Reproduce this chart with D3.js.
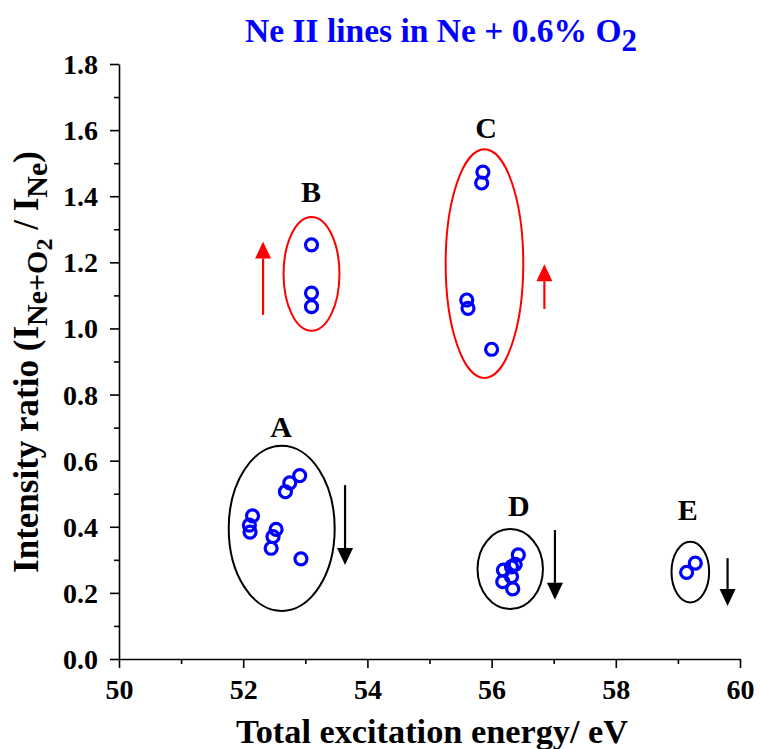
<!DOCTYPE html>
<html>
<head>
<meta charset="utf-8">
<script src="https://cdn.jsdelivr.net/npm/d3@7"></script>
<style>
  body { margin: 0; background: #fff; }
  svg text { font-family: "Liberation Serif", "Times New Roman", serif; font-weight: bold; }
</style>
</head>
<body>
<div id="chart"></div>
<script>
// measured points (energy eV, intensity ratio)
const groupA = [[52.91, 0.555], [52.75, 0.533], [52.68, 0.506], [52.15, 0.433], [52.10, 0.405],
                [52.11, 0.384], [52.53, 0.392], [52.48, 0.370], [52.45, 0.335], [52.93, 0.303]];
const groupB = [[53.10, 1.253], [53.10, 1.107], [53.10, 1.066]];
const groupC = [[55.86, 1.473], [55.84, 1.440], [55.60, 1.086], [55.62, 1.061], [56.00, 0.937]];
const groupD = [[56.43, 0.315], [56.38, 0.286], [56.32, 0.279], [56.19, 0.269], [56.18, 0.234],
                [56.32, 0.249], [56.34, 0.212]];
const groupE = [[59.28, 0.290], [59.14, 0.262]];

// cluster ellipses: name, centre x, centre y, half width (eV), half height (ratio), colour
const clusters = [
  ["A", 52.62, 0.395, 0.853, 0.250, "#000"],
  ["B", 53.10, 1.165, 0.450, 0.172, "#f00"],
  ["C", 55.885, 1.196, 0.625, 0.346, "#f00"],
  ["D", 56.30, 0.272, 0.527, 0.121, "#000"],
  ["E", 59.20, 0.263, 0.303, 0.092, "#000"]
];
// cluster labels: text, x, y (baseline)
const labels = [["A", 52.61, 0.672], ["B", 53.09, 1.383], ["C", 55.91, 1.576], ["D", 56.44, 0.433], ["E", 59.16, 0.420]];
// trend arrows: x, from y, to y (tip), colour
const arrows = [
  [52.32, 1.041, 1.263, "#f00"],
  [56.85, 1.059, 1.194, "#f00"],
  [53.64, 0.526, 0.284, "#000"],
  [57.02, 0.390, 0.179, "#000"],
  [59.80, 0.305, 0.160, "#000"]
];
const xTicks = [50, 52, 54, 56, 58, 60];
const yTicks = [0, 0.2, 0.4, 0.6, 0.8, 1.0, 1.2, 1.4, 1.6, 1.8];

const width = 761, height = 749;
const margin = { top: 64, right: 21, bottom: 90, left: 119 };
const serif = "'Liberation Serif', 'Times New Roman', serif";

const svg = d3.select("#chart").append("svg")
    .attr("width", width)
    .attr("height", height)
    .attr("font-family", serif)
    .attr("font-weight", "bold");

const x = d3.scaleLinear().domain([50, 60]).range([margin.left, width - margin.right]);
const y = d3.scaleLinear().domain([0, 1.8]).range([height - margin.bottom, margin.top]);

// minor ticks first
svg.append("g")
    .attr("transform", `translate(0,${y(0)})`)
    .call(d3.axisBottom(x).tickValues(d3.range(51, 60, 2)).tickSize(5).tickSizeOuter(0).tickFormat(""))
    .call(g => g.select(".domain").remove());
svg.append("g")
    .attr("transform", `translate(${x(50)},0)`)
    .call(d3.axisLeft(y).tickValues(d3.range(0.1, 1.8, 0.2)).tickSize(5).tickSizeOuter(0).tickFormat(""))
    .call(g => g.select(".domain").remove());

const xAxis = svg.append("g")
    .attr("transform", `translate(0,${y(0)})`)
    .call(d3.axisBottom(x).tickValues(xTicks).tickSize(9).tickSizeOuter(0).tickPadding(13).tickFormat(d3.format("d")));
const yAxis = svg.append("g")
    .attr("transform", `translate(${x(50)},0)`)
    .call(d3.axisLeft(y).tickValues(yTicks).tickSize(9).tickSizeOuter(0).tickPadding(12).tickFormat(d3.format(".1f")));

[xAxis, yAxis].forEach(g => {
  g.attr("font-family", serif).attr("font-size", 28);
  g.selectAll("text").attr("fill", "#000");
});
svg.selectAll("g path, g line").attr("stroke", "#000").attr("stroke-width", 1.6);
xAxis.selectAll("text").attr("dy", "0.66em");
yAxis.selectAll("text").attr("dy", "0.34em");

// ellipses
svg.append("g").selectAll("ellipse")
    .data(clusters)
  .join("ellipse")
    .attr("cx", d => x(d[1]))
    .attr("cy", d => y(d[2]))
    .attr("rx", d => x(d[1] + d[3]) - x(d[1]))
    .attr("ry", d => y(d[2] - d[4]) - y(d[2]))
    .attr("fill", "none")
    .attr("stroke", d => d[5])
    .attr("stroke-width", 2);

// arrows
const arrowG = svg.append("g");
arrows.forEach(([ax, y0, y1, c]) => {
  const px = x(ax), pFrom = y(y0), pTip = y(y1);
  const dir = pTip < pFrom ? -1 : 1;
  const headLen = 17, headW = 8;
  const base = pTip - dir * headLen;
  arrowG.append("line")
      .attr("x1", px).attr("x2", px)
      .attr("y1", pFrom).attr("y2", base)
      .attr("stroke", c).attr("stroke-width", 2.2);
  arrowG.append("path")
      .attr("d", `M${px - headW},${base}L${px + headW},${base}L${px},${pTip}Z`)
      .attr("fill", c);
});

// points
const allPoints = [].concat(groupA, groupB, groupC, groupD, groupE);
svg.append("g").selectAll("circle")
    .data(allPoints)
  .join("circle")
    .attr("cx", d => x(d[0]))
    .attr("cy", d => y(d[1]))
    .attr("r", 6)
    .attr("fill", "none")
    .attr("stroke", "#0000ff")
    .attr("stroke-width", 3.2);

// cluster letters
svg.append("g").selectAll("text")
    .data(labels)
  .join("text")
    .attr("x", d => x(d[1]))
    .attr("y", d => y(d[2]))
    .attr("text-anchor", "middle")
    .attr("font-size", 30)
    .text(d => d[0]);

// title
const title = svg.append("text")
    .attr("x", 441)
    .attr("y", 42)
    .attr("text-anchor", "middle")
    .attr("fill", "#0000ff")
    .attr("font-size", 33.5);
title.append("tspan").text("Ne II lines in Ne + 0.6% O");
title.append("tspan").attr("dy", 9).attr("font-size", 31).text("2");

// x label
svg.append("text")
    .attr("x", 432)
    .attr("y", 743)
    .attr("text-anchor", "middle")
    .attr("font-size", 34.3)
    .text("Total excitation energy/ eV");

// y label
const yl = svg.append("text")
    .attr("transform", `translate(38,362) rotate(-90)`)
    .attr("text-anchor", "middle")
    .attr("font-size", 35);
yl.append("tspan").text("Intensity ratio (I");
yl.append("tspan").attr("dy", 9).attr("font-size", 30).text("Ne+O");
yl.append("tspan").attr("dy", 5).attr("font-size", 24).text("2");
yl.append("tspan").attr("dy", -14).text(" / I");
yl.append("tspan").attr("dy", 9).attr("font-size", 30).text("Ne");
yl.append("tspan").attr("dy", -9).text(")");
</script>
</body>
</html>
